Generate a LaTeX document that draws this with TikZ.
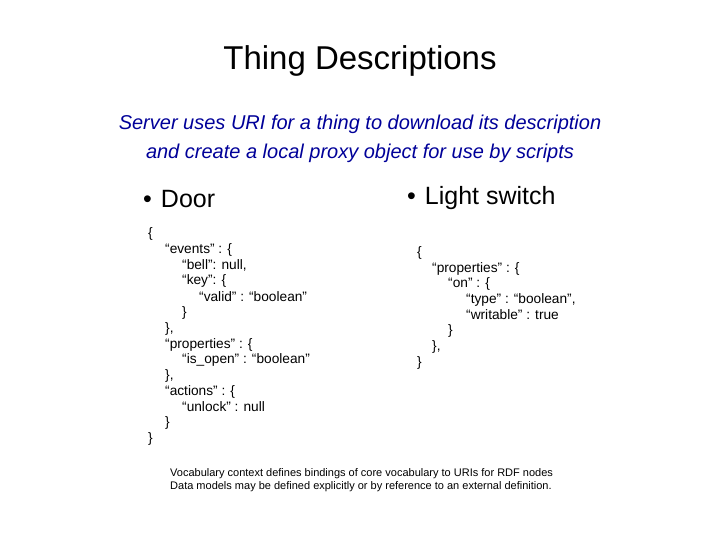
\documentclass[tikz,border=0pt]{standalone}
\usepackage{fontspec}
\setmainfont{Liberation Sans}
\begin{document}
\begin{tikzpicture}[x=1pt,y=-1pt,
  code/.style={anchor=west,inner sep=0pt,font=\fontsize{13.7}{13.7}\selectfont},
  bul/.style={anchor=west,inner sep=0pt,font=\fontsize{25}{25}\selectfont},
  note/.style={anchor=west,inner sep=0pt,font=\fontsize{11}{12}\selectfont}]
\useasboundingbox[fill=white] (0,0) rectangle (720,540);
\node[inner sep=0pt,font=\fontsize{33}{33}\selectfont] (title) at (360,61) {Thing Descriptions};
\node[inner sep=0pt,align=center,text=blue!60!black,font=\itshape\fontsize{20}{29}\selectfont] (sub) at (360,139) {Server uses URI for a thing to download its description\\and create a local proxy object for use by scripts};
\node[bul] (b1) at (143,199) {\textbullet\hspace{9pt}Door};
\node[bul] (b2) at (407,198) {\textbullet\hspace{9pt}Light switch};
\node[code] (d1) at (148,234) {\{};
\node[code] (d2) at (165,250) {“events” : \{};
\node[code] (d3) at (182,265) {“bell”: null,};
\node[code] (d4) at (182,281) {“key”: \{};
\node[code] (d5) at (199,297) {“valid” : “boolean”};
\node[code] (d6) at (182,313) {\}};
\node[code] (d7) at (165,329) {\},};
\node[code] (d8) at (165,345) {“properties” : \{};
\node[code] (d9) at (182,360) {“is\_open” : “boolean”};
\node[code] (d10) at (165,376) {\},};
\node[code] (d11) at (165,392) {“actions” : \{};
\node[code] (d12) at (182,407) {“unlock” : null};
\node[code] (d13) at (165,423) {\}};
\node[code] (d14) at (148,439) {\}};
\node[code] (l1) at (417,253) {\{};
\node[code] (l2) at (432,269) {“properties” : \{};
\node[code] (l3) at (448,284) {“on” : \{};
\node[code] (l4) at (466,300) {“type” : “boolean”,};
\node[code] (l5) at (466,315) {“writable” : true};
\node[code] (l6) at (448,331) {\}};
\node[code] (l7) at (432,347) {\},};
\node[code] (l8) at (417,363) {\}};
\node[note] (n1) at (170,474) {Vocabulary context defines bindings of core vocabulary to URIs for RDF nodes};
\node[note] (n2) at (170,487) {Data models may be defined explicitly or by reference to an external definition.};
\end{tikzpicture}
\end{document}
